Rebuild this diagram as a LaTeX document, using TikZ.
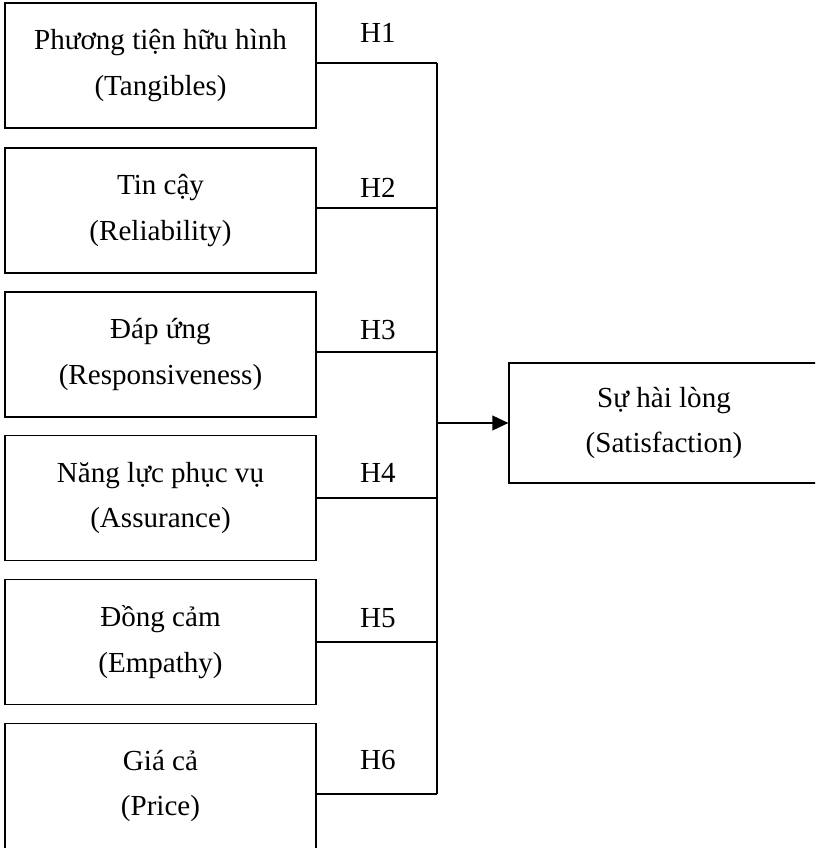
\documentclass[tikz,border=0pt]{standalone}
\usepackage{fontspec}
\setmainfont{Liberation Serif}
\usetikzlibrary{arrows.meta}

\begin{document}
\begin{tikzpicture}[x=0.75pt,y=-0.75pt,line width=1.4pt,
		factor/.style={draw,minimum width=233.25pt,minimum height=93.75pt,inner sep=0pt,align=center,font={\fontsize{21.8pt}{34pt}\selectfont}},
		hlabel/.style={inner sep=0pt,font={\fontsize{21.8pt}{26pt}\selectfont}}]
		\clip (0,0) rectangle (815,848);
		\node [factor] (b1) at (160.5,65.5) {Phương tiện hữu hình\\(Tangibles)};
		\node [factor] (b2) at (160.5,210.5) {Tin cậy\\(Reliability)};
		\node [factor] (b3) at (160.5,354.5) {Đáp ứng\\(Responsiveness)};
		\node [factor] (b4) at (160.5,498) {Năng lực phục vụ\\(Assurance)};
		\node [factor] (b5) at (160.5,642) {Đồng cảm\\(Empathy)};
		\node [factor] (b6) at (160.5,786) {Giá cả\\(Price)};
		\node [factor,minimum width=232pt,minimum height=90pt] (sat) at (664,423) {Sự hài lòng\\(Satisfaction)};
		\node [hlabel] (h1) at (378,33) {H1};
		\node [hlabel] (h2) at (378,188) {H2};
		\node [hlabel] (h3) at (378,330) {H3};
		\node [hlabel] (h4) at (378,473) {H4};
		\node [hlabel] (h5) at (378,618) {H5};
		\node [hlabel] (h6) at (378,760) {H6};
		\coordinate (bus) at (437,0);
		\foreach \i/\s in {1/2,2/2,3/2,4/0,5/0,6/-6}
			\draw ([yshift=\s pt]b\i.east) coordinate (c\i) -- (c\i -| bus);
		\draw (c1 -| bus) -- (c6 -| bus);
		\draw [-{Triangle[length=12pt,width=11pt]}] (sat.west -| bus) -- (sat.west);
	\end{tikzpicture}
\end{document}
